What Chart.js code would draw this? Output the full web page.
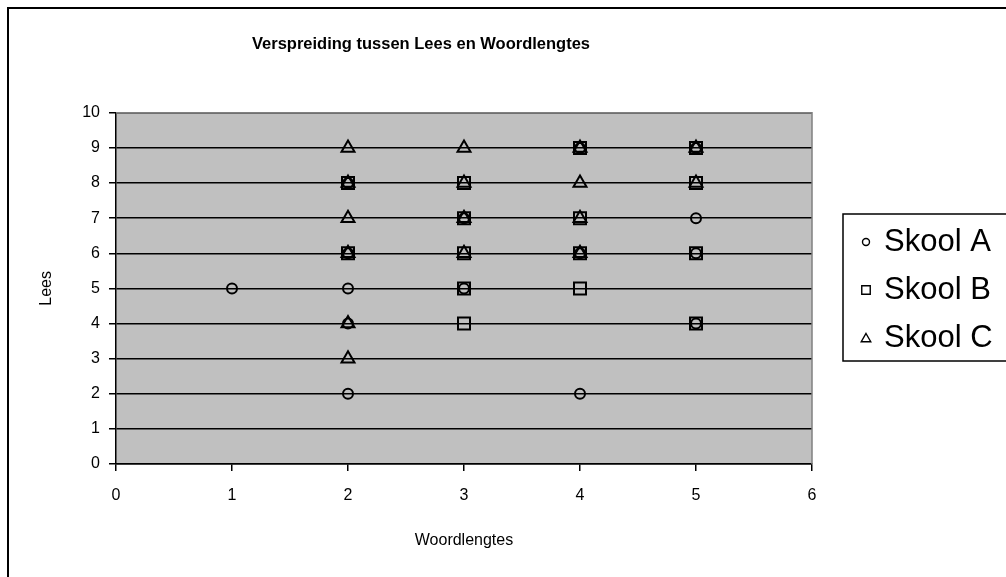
<!DOCTYPE html>
<html>
<head>
<meta charset="utf-8">
<script src="https://cdn.jsdelivr.net/npm/chart.js@4/dist/chart.umd.min.js"></script>
<style>
  body { margin: 0; background: #fff; }
  canvas { display: block; }
</style>
</head>
<body>
<canvas id="chart" width="1006" height="577"></canvas>
<script>
const woordA = [1, 2, 2, 2, 2, 2, 3, 3, 4, 4, 4, 5, 5, 5, 5];
const leesA  = [5, 8, 6, 5, 4, 2, 7, 5, 9, 6, 2, 9, 7, 6, 4];
const woordB = [2, 2, 3, 3, 3, 3, 3, 4, 4, 4, 4, 5, 5, 5, 5];
const leesB  = [8, 6, 8, 7, 6, 5, 4, 9, 7, 6, 5, 9, 8, 6, 4];
const woordC = [2, 2, 2, 2, 2, 2, 3, 3, 3, 3, 4, 4, 4, 4, 5, 5];
const leesC  = [9, 8, 7, 6, 4, 3, 9, 8, 7, 6, 9, 8, 7, 6, 9, 8];
const seriesNames = ['Skool A', 'Skool B', 'Skool C'];

const fontFam = '"Liberation Sans", Arial, sans-serif';

function toPoints(xs, ys) {
  return xs.map((x, i) => ({ x: x, y: ys[i] }));
}

const frame = {
  id: 'frame',
  beforeDraw(chart) {
    const { ctx, chartArea: a } = chart;
    ctx.save();
    ctx.fillStyle = '#fff';
    ctx.fillRect(0, 0, chart.width, chart.height);
    ctx.fillStyle = '#c0c0c0';
    ctx.fillRect(a.left, a.top, a.right - a.left, a.bottom - a.top);
    // outer border
    ctx.strokeStyle = '#000';
    ctx.lineWidth = 2;
    ctx.beginPath();
    ctx.moveTo(8, 1100);
    ctx.lineTo(8, 8);
    ctx.lineTo(1100, 8);
    ctx.stroke();
    ctx.restore();
  },
  beforeDatasetsDraw(chart) {
    const { ctx, chartArea: a } = chart;
    ctx.save();
    ctx.strokeStyle = '#808080';
    ctx.lineWidth = 1.5;
    ctx.beginPath();
    ctx.moveTo(a.left, a.top);
    ctx.lineTo(a.right, a.top);
    ctx.lineTo(a.right, a.bottom);
    ctx.stroke();
    ctx.restore();
  },
  afterDraw(chart) {
    const ctx = chart.ctx;
    ctx.save();
    ctx.strokeStyle = '#000';
    ctx.lineWidth = 1.5;
    ctx.strokeRect(843, 214, 200, 147);
    const rows = [242, 290, 338];
    const styles = ['circle', 'rect', 'triangle'];
    const radii = [3.5, 6, 5.5];
    ctx.font = '31px ' + fontFam;
    ctx.textBaseline = 'middle';
    rows.forEach((y, i) => {
      ctx.lineWidth = 1.4;
      ctx.strokeStyle = '#000';
      ctx.fillStyle = 'rgba(0,0,0,0)';
      Chart.helpers.drawPoint(ctx, { pointStyle: styles[i], radius: radii[i], borderWidth: 1.4, rotation: 0 }, 866, i === 2 ? y + 1 : y);
      ctx.fillStyle = '#000';
      ctx.fillText(seriesNames[i], 884, y);
    });
    ctx.restore();
  }
};

const markerBase = {
  backgroundColor: 'rgba(0,0,0,0)',
  borderColor: '#000',
  borderWidth: 2,
  pointHoverRadius: 0
};

new Chart(document.getElementById('chart'), {
  type: 'scatter',
  data: {
    datasets: [
      Object.assign({ label: seriesNames[0], data: toPoints(woordA, leesA), pointStyle: 'circle', pointRadius: 5 }, markerBase),
      Object.assign({ label: seriesNames[1], data: toPoints(woordB, leesB), pointStyle: 'rect', pointRadius: 8.5 }, markerBase),
      Object.assign({ label: seriesNames[2], data: toPoints(woordC, leesC), pointStyle: 'triangle', pointRadius: 7.5 }, markerBase)
    ]
  },
  options: {
    responsive: false,
    animation: false,
    layout: { padding: { left: 30, right: 194, top: 0, bottom: 23 } },
    plugins: {
      legend: { display: false },
      tooltip: { enabled: false },
      title: {
        display: true,
        text: 'Verspreiding tussen Lees en Woordlengtes',
        color: '#000',
        font: { family: fontFam, size: 16.5, weight: 'bold' },
        padding: { top: 35, bottom: 58 }
      }
    },
    scales: {
      x: {
        min: 0,
        max: 6,
        afterFit(scale) { scale.height = 90; },
        ticks: { stepSize: 1, color: '#000', padding: 15, font: { family: fontFam, size: 16 } },
        grid: { drawOnChartArea: false, drawTicks: true, tickLength: 7, color: '#000', lineWidth: 1.5 },
        border: { color: '#000', width: 1.5 },
        title: {
          display: true,
          text: 'Woordlengtes',
          color: '#000',
          font: { family: fontFam, size: 16 },
          padding: { top: 0, bottom: 4 }
        }
      },
      y: {
        min: 0,
        max: 10,
        afterFit(scale) { scale.width = 86; },
        ticks: { stepSize: 1, color: '#000', padding: 9, font: { family: fontFam, size: 16 } },
        grid: {
          drawOnChartArea: true,
          tickLength: 7,
          color: '#000',
          lineWidth: 1.5
        },
        border: { color: '#000', width: 1.5 },
        title: {
          display: true,
          text: 'Lees',
          color: '#000',
          font: { family: fontFam, size: 16 },
          padding: { top: 7, bottom: 0 }
        }
      }
    }
  },
  plugins: [frame]
});
</script>
</body>
</html>
